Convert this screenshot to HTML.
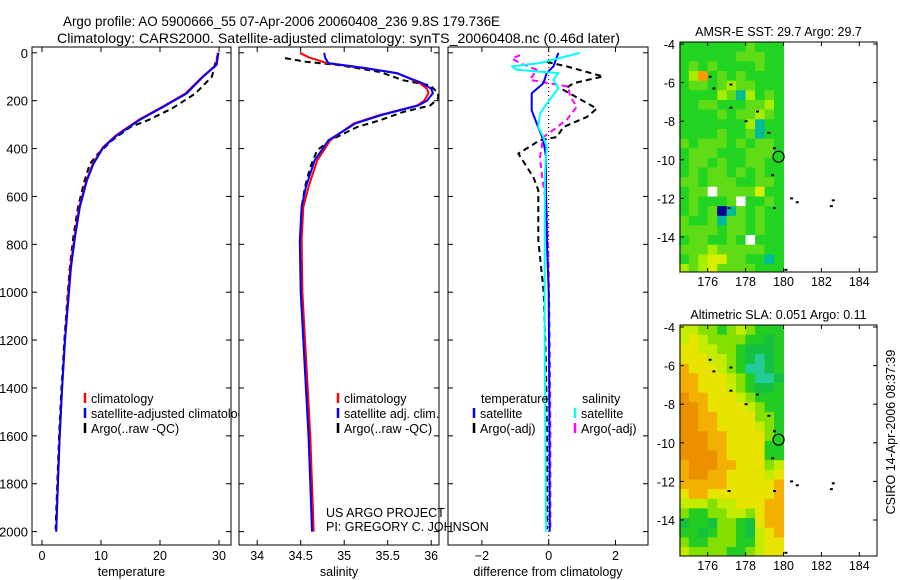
<!DOCTYPE html>
<html><head><meta charset="utf-8"><style>
body{margin:0;background:#fff;}
svg{display:block;font-family:"Liberation Sans",sans-serif;}
text{fill:#000;}
</style></head><body>
<svg id="fig" width="900" height="580" viewBox="0 0 900 580" xmlns="http://www.w3.org/2000/svg">
<text x="63" y="26" font-size="14" textLength="437" lengthAdjust="spacingAndGlyphs">Argo profile: AO 5900666_55 07-Apr-2006 20060408_236 9.8S 179.736E</text>
<text x="57" y="43" font-size="14" textLength="563" lengthAdjust="spacingAndGlyphs">Climatology: CARS2000. Satellite-adjusted climatology: synTS_20060408.nc (0.46d later)</text>
<g id="p1"></g>
<g id="p2"></g>
<g id="p3"></g>
<g id="m1"></g>
<g id="m2"></g>
<text transform="translate(895,432) rotate(-90)" font-size="12.5" text-anchor="middle">CSIRO 14-Apr-2006 08:37:39</text>
</svg>
<script>
// ---- profile data ----
const depthT=[0,50,100,170,225,280,345,395,465,535,645,770,900,1025,1200,1400,1600,1800,2000];
const tempClim=[29.8,29.5,27.2,24.3,20.4,16.4,12.5,10.3,8.6,7.5,6.3,5.5,4.8,4.4,3.9,3.4,3.0,2.7,2.4];
const tempSat=[29.9,29.6,27.3,24.5,20.6,16.6,12.7,10.4,8.7,7.6,6.4,5.6,4.9,4.5,3.9,3.4,3.0,2.7,2.4];
const depthTA=[0,40,100,170,233,280,310,365,421,465,535,645,770,900,1025,1200,1400,1600,1800,1990];
const tempArgo=[29.9,29.4,28.8,26.0,22.0,18.1,15.0,11.9,9.5,8.1,7.2,6.1,5.3,4.7,4.3,3.8,3.3,2.9,2.6,2.3];
const depthS=[0,20,43,64,85,127,150,169,200,220,260,295,365,450,560,645,785,1000,1200,1400,1600,1800,2000];
const salClim=[34.49,34.6,34.80,35.22,35.61,35.87,35.95,35.97,35.92,35.84,35.41,35.11,34.84,34.69,34.59,34.53,34.51,34.52,34.55,34.58,34.61,34.63,34.65];
const salSat=[34.77,34.78,34.82,35.25,35.6,35.9,36.0,36.02,35.95,35.85,35.43,35.13,34.82,34.66,34.56,34.51,34.49,34.50,34.53,34.56,34.59,34.61,34.63];
const depthSA=[22,38,52,80,115,136,169,190,220,247,282,310,365,407,477,561,645,784,1000,1200,1400,1600,1800,1990];
const salArgo=[34.32,34.57,34.95,35.41,35.68,35.99,36.08,36.08,35.99,35.68,35.41,35.15,34.84,34.69,34.61,34.55,34.51,34.51,34.51,34.54,34.57,34.60,34.62,34.64];
const depthDTS=[0,57,85,127,169,240,295,365,435,574,800,1000,1500,2000];
const diffTSat=[0.29,0.14,-0.06,-0.16,-0.51,-0.51,-0.36,-0.16,-0.08,-0.08,-0.05,0.0,0.02,0.03];
const depthDSS=[0,43,57,71,85,113,148,212,254,310,352,393,505,800,1200,1600,2000];
const diffSSat=[0.94,-0.26,-1.1,-0.96,0.29,0.14,0.29,-0.06,-0.26,-0.31,-0.16,-0.06,-0.11,-0.12,-0.12,-0.1,-0.08];
const depthDSA=[10,24,43,71,113,141,183,225,280,322,352,435,505,645,900,1200,1600,1990];
const diffSArgo=[-0.86,-1.1,-0.86,-0.36,-0.56,0.59,0.64,0.84,0.54,0.14,-0.16,-0.26,-0.21,-0.06,0.0,0.03,0.05,0.05];
const depthDTA=[38,57,99,127,155,198,233,268,310,352,365,421,519,574,783,1000,1300,1600,1990];
const diffTArgo=[-0.06,0.54,1.63,0.74,0.44,0.99,1.44,1.14,0.44,0.24,-0.26,-0.91,-0.46,-0.31,-0.31,-0.15,-0.08,-0.05,-0.05];
const depthTicks=[0,200,400,600,800,1000,1200,1400,1600,1800,2000];
const tempTicks=[0,10,20,30];
const salTicks=[34,34.5,35,35.5,36];
const diffTicks=[-2,0,2];
// ---- map data ----
const lonTicks=[176,178,180,182,184];
const latTicks=[-4,-6,-8,-10,-12,-14];
const sstRows=["gggggggGggg","ggggggGGGgg","gGgGggggGgg","gyogGgGgggg","gGGgGyGGggg","ggggyGcygGg","ggGGgggGGyg","ggggGgGGyGg","gggggggycgg","ggggGggGcgg","GgGGGgGgGGg","gGGGgggGGGg","gGGgGggGGgg","gGgGGgGgGgg","GGgGGGggGGg","gGGwGGGGYgg","gGgggGwggGg","gGgGbcGgGgg","GggGcGGgGgg","GGGGgGGgGgg","gGGggGgwggg","GGGyGGGGGgg","gGyYYGGggcg","yGyYGGGGggg"];
const slaRows=["yyLLgLyLggg","yYyLLLLggGg","YYyyLLgGGGg","YYYyyLgGtGg","oYYYyLgttGg","ooYYYyLgttG","ooYYYyLgGGg","OooYYYyLggg","OOoYYYYyLgg","OOooYYYYLLg","OOooYYYYyLg","OOOooYYYYLg","OOOooYYYYgg","OOOOoYYYYgg","oOOOooYYYLy","oOOooYYYYyY","oooooYYYYYo","YooYYYYYYYo","yyyLyyYYYoo","LggLLyyLYoo","GggGLLgGYoo","ggGgLLgGyYo","LggLLLggyYY","yLLLLggLyYY"];
const islandLon=[176.1,176.3,177.2,177.2,178,178.6,179.2,179.5,179.4,180.4,180.7,182.5,182.6,177.1,179.5,180.1];
const islandLat=[-5.7,-6.3,-6.1,-7.3,-8.0,-7.5,-8.6,-9.4,-10.8,-12.0,-12.2,-12.4,-12.1,-12.5,-12.5,-15.7];
const floatLon=[179.74];
const floatLat=[-9.84];

const NS="http://www.w3.org/2000/svg";
function mk(tag,attrs,parent){const e=document.createElementNS(NS,tag);for(const k in attrs)e.setAttribute(k,attrs[k]);parent.appendChild(e);return e;}
const yD=d=>52.8+d*0.2394;
const xT=t=>42+t*5.9;
const xS=s=>257.2+(s-34)*87;
const xD=v=>548.7+v*33.4;

function frame(g,x0,x1,y0,y1,xt,xf,yt,ylabels,xlabelText){
  const bg=mk('rect',{x:x0,y:y0,width:x1-x0,height:y1-y0,fill:'#fff',stroke:'#000','stroke-width':1},g);
  
  
  yt.forEach(d=>{const y=yD(d);
    mk('line',{x1:x0,x2:x0+5,y1:y,y2:y,stroke:'#000'},g);
    mk('line',{x1:x1-5,x2:x1,y1:y,y2:y,stroke:'#000'},g);
    if(ylabels){const t=mk('text',{x:x0-4,y:y+5,'font-size':13,'text-anchor':'end'},g);t.textContent=d;
      
      }
  });
  xt.forEach(v=>{const x=xf(v);
    mk('line',{x1:x,x2:x,y1:y0,y2:y0+5,stroke:'#000'},g);
    mk('line',{x1:x,x2:x,y1:y1-5,y2:y1,stroke:'#000'},g);
    const t=mk('text',{x:x,y:y1+15,'font-size':12.5,'text-anchor':'middle'},g);t.textContent=(v<0?'\u2212'+(-v):v);
    
    
  });
  const xl=mk('text',{x:(x0+x1)/2,y:576,'font-size':12.5,'text-anchor':'middle'},g);xl.textContent=xlabelText;
  
  
}
function line(g,ds,vs,xf,color,dash,name){
  const pts=ds.map((d,i)=>xf(vs[i]).toFixed(1)+','+yD(d).toFixed(1)).join(' ');
  const a={points:pts,fill:'none',stroke:color,'stroke-width':2,'stroke-linejoin':'round'};
  if(dash)a['stroke-dasharray']=dash;
  const p=mk('polyline',a,g);
  
  
}
function legend(g,x,y,color,label,name){
  mk('line',{x1:x,x2:x,y1:y-10,y2:y,stroke:color,'stroke-width':2.5},g);
  const t=mk('text',{x:x+6,y:y,'font-size':12.5},g);t.textContent=label;
  
  
}
const Y0=47,Y1=545;
const p1=document.getElementById('p1');
frame(p1,32,231,Y0,Y1,tempTicks,xT,depthTicks,true,'temperature');
line(p1,depthTA,tempArgo,xT,'#000','6,4','temp-argo-line');
line(p1,depthT,tempClim,xT,'#ff0000',null,'temp-climatology-line');
line(p1,depthT,tempSat,xT,'#0000ff',null,'temp-satellite-line');
legend(p1,85,403,'#ff0000','climatology','legend-climatology');
legend(p1,85,418,'#0000ff','satellite-adjusted climatology','legend-satellite');
legend(p1,85,433,'#000','Argo(..raw -QC)','legend-argo');
const p2=document.getElementById('p2');
frame(p2,239,439,Y0,Y1,salTicks,xS,depthTicks,false,'salinity');
line(p2,depthSA,salArgo,xS,'#000','6,4','sal-argo-line');
line(p2,depthS,salClim,xS,'#ff0000',null,'sal-climatology-line');
line(p2,depthS,salSat,xS,'#0000ff',null,'sal-satellite-line');
legend(p2,338,403,'#ff0000','climatology','legend-climatology');
legend(p2,338,418,'#0000ff','satellite adj. clim.','legend-satellite');
legend(p2,338,433,'#000','Argo(..raw -QC)','legend-argo');
const p3=document.getElementById('p3');
frame(p3,448,648,Y0,Y1,diffTicks,xD,depthTicks,false,'difference from climatology');
mk('line',{x1:xD(0),x2:xD(0),y1:Y0,y2:Y1,stroke:'#000','stroke-dasharray':'1,3'},p3);
line(p3,depthDTA,diffTArgo,xD,'#000','6,4','diff-temp-argo-line');
line(p3,depthDSA,diffSArgo,xD,'#ff00ff','6,4','diff-sal-argo-line');
line(p3,depthDTS,diffTSat,xD,'#0000ff',null,'diff-temp-satellite-line');
line(p3,depthDSS,diffSSat,xD,'#00ffff',null,'diff-sal-satellite-line');
let th=mk('text',{x:481,y:403,'font-size':12.5},p3);th.textContent='temperature';


let sh=mk('text',{x:582,y:403,'font-size':12.5},p3);sh.textContent='salinity';


legend(p3,474,418,'#0000ff','satellite','legend-temp-satellite');
legend(p3,474,433,'#000','Argo(-adj)','legend-temp-argo');
legend(p3,575,418,'#00ffff','satellite','legend-sal-satellite');
legend(p3,575,433,'#ff00ff','Argo(-adj)','legend-sal-argo');
let c1=mk('text',{x:326,y:517,'font-size':12.5},document.getElementById('fig'));c1.textContent='US ARGO PROJECT';

let c2=mk('text',{x:326,y:531,'font-size':12.5},document.getElementById('fig'));c2.textContent='PI: GREGORY C. JOHNSON';


const pal1={g:'#22d422',G:'#5fdc16',y:'#a8ec00',Y:'#d8ee00',o:'#ff9a00',c:'#00bb99',b:'#000090',w:'#ffffff'};
const pal2={O:'#ec9000',o:'#f4b000',Y:'#e8e400',y:'#c4ec00',L:'#84e000',g:'#22cc22',G:'#14c040',t:'#22cc99'};
function map(id,top,bottom,rows,pal,title){
  const g=document.getElementById(id);
  const x0=680,x1=877;
  const xL=l=>707.7+(l-176)*18.95;
  const yL=a=>(top+2)+(-4-a)*19.3;
  const cw=0.5,lat0=-3.9;
  rows.forEach((r,i)=>{for(let j=0;j<r.length;j++){
    const lo=174.5+j*cw, la=lat0-i*cw;
    const rc=mk('rect',{x:xL(lo).toFixed(1),y:yL(la).toFixed(1),width:(cw*18.95+0.6).toFixed(1),height:(cw*19.3+0.6).toFixed(1),fill:pal[r[j]]},g);
    
    
  }});
  mk('rect',{x:xL(180.1),y:top,width:x1-xL(180.1),height:bottom-top,fill:'#fff'},g);
  mk('rect',{x:x0,y:bottom,width:x1-x0,height:20,fill:'#fff'},g);
  const fr=mk('rect',{x:x0,y:top,width:x1-x0,height:bottom-top,fill:'none',stroke:'#000'},g);
  
  
  islandLon.forEach((lo,i)=>{mk('rect',{x:xL(lo)-1,y:yL(islandLat[i])-1,width:3,height:2,fill:'#000'},g);});
  floatLon.forEach((lo,i)=>{const c=mk('circle',{cx:xL(lo),cy:yL(floatLat[i]),r:5.5,fill:'none',stroke:'#000','stroke-width':1.2},g);
    
    });
  latTicks.forEach(a=>{const y=yL(a);
    mk('line',{x1:x0,x2:x0+4,y1:y,y2:y,stroke:'#000'},g);
    mk('line',{x1:x1-4,x2:x1,y1:y,y2:y,stroke:'#000'},g);
    const t=mk('text',{x:x0-5,y:y+5,'font-size':12.5,'text-anchor':'end'},g);t.textContent=(a<0?'-'+(-a):a);
    
    });
  lonTicks.forEach(l=>{const x=xL(l);
    mk('line',{x1:x,x2:x,y1:top,y2:top+4,stroke:'#000'},g);
    mk('line',{x1:x,x2:x,y1:bottom-4,y2:bottom,stroke:'#000'},g);
    const t=mk('text',{x:x,y:bottom+14,'font-size':12.5,'text-anchor':'middle'},g);t.textContent=l;
    
    });
  const tt=mk('text',{x:(x0+x1)/2,y:top-6,'font-size':12.5,'text-anchor':'middle'},g);tt.textContent=title;
  
  
}
map('m1',42,272,sstRows,pal1,'AMSR-E SST: 29.7 Argo: 29.7');
map('m2',325,556,slaRows,pal2,'Altimetric SLA: 0.051 Argo: 0.11');
</script>
</body></html>
